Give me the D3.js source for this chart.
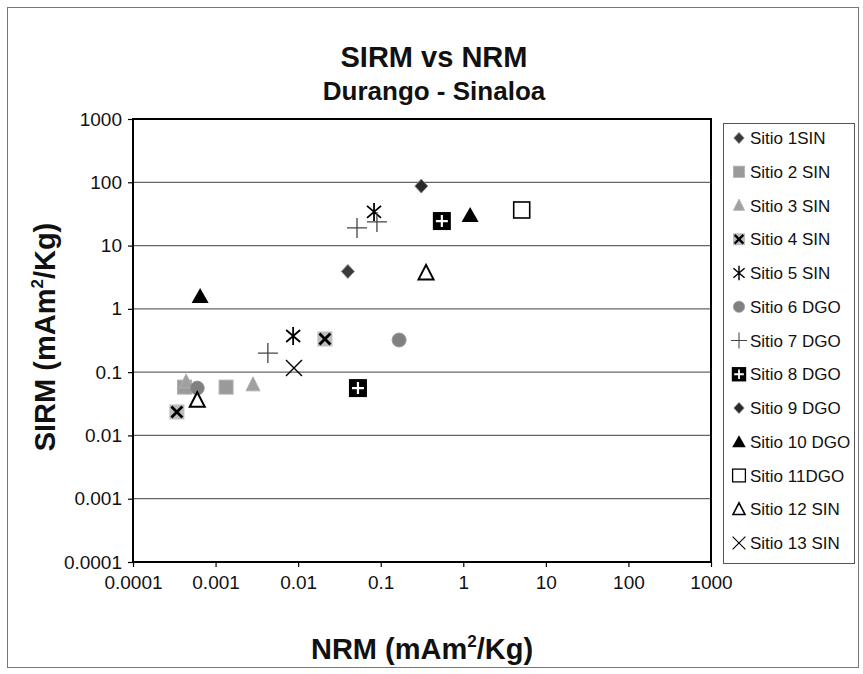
<!DOCTYPE html>
<html><head><meta charset="utf-8">
<script src="https://cdn.jsdelivr.net/npm/d3@7"></script>
<style>body{margin:0;background:#fff;}svg{display:block;font-family:Arial,"Liberation Sans",sans-serif;}</style>
</head><body>
<svg id="c" width="863" height="674"></svg>
<script>
// ---- data ----
const seriesNames = ["Sitio 1SIN","Sitio 2 SIN","Sitio 3 SIN","Sitio 4 SIN","Sitio 5 SIN","Sitio 6 DGO","Sitio 7 DGO","Sitio 8 DGO","Sitio 9 DGO","Sitio 10 DGO","Sitio 11DGO","Sitio 12 SIN","Sitio 13 SIN"];
const nrm1 = [0.04];            const sirm1 = [3.9];
const nrm2 = [0.00042, 0.00134]; const sirm2 = [0.058, 0.058];
const nrm3 = [0.00044, 0.00284]; const sirm3 = [0.07, 0.063];
const nrm4 = [0.00034, 0.0211];  const sirm4 = [0.0235, 0.334];
const nrm5 = [0.0087, 0.083];    const sirm5 = [0.372, 34];
const nrm6 = [0.0006, 0.167];    const sirm6 = [0.056, 0.322];
const nrm7 = [0.0043, 0.0516, 0.09]; const sirm7 = [0.2, 19, 23.6];
const nrm8 = [0.053, 0.55];      const sirm8 = [0.056, 24.4];
const nrm9 = [0.31];             const sirm9 = [87];
const nrm10 = [0.00065, 1.21];   const sirm10 = [1.6, 30.4];
const nrm11 = [5.1];             const sirm11 = [36.5];
const nrm12 = [0.0006, 0.354];   const sirm12 = [0.036, 3.7];
const nrm13 = [0.0089];          const sirm13 = [0.116];
const xTicks = [0.0001,0.001,0.01,0.1,1,10,100,1000];
const xTickLabels = ["0.0001","0.001","0.01","0.1","1","10","100","1000"];
const yTicks = [0.0001,0.001,0.01,0.1,1,10,100,1000];
const yTickLabels = ["0.0001","0.001","0.01","0.1","1","10","100","1000"];

const nrmAll = [nrm1,nrm2,nrm3,nrm4,nrm5,nrm6,nrm7,nrm8,nrm9,nrm10,nrm11,nrm12,nrm13];
const sirmAll = [sirm1,sirm2,sirm3,sirm4,sirm5,sirm6,sirm7,sirm8,sirm9,sirm10,sirm11,sirm12,sirm13];
const series = seriesNames.map((n,i)=>({name:n, pts: nrmAll[i].map((v,j)=>({x:v,y:sirmAll[i][j]}))}));

// ---- layout ----
const svg = d3.select("#c");
const L=133, R=711, T=119, B=562;
const x = d3.scaleLog().domain([1e-4,1e3]).range([L,R]);
const y = d3.scaleLog().domain([1e-4,1e3]).range([B,T]);

// outer border
svg.append("rect").attr("x",7.5).attr("y",7.5).attr("width",851).attr("height",660)
  .attr("fill","#fff").attr("stroke","#777").attr("stroke-width",1);

// title
svg.append("text").attr("x",434).attr("y",67).attr("text-anchor","middle")
  .attr("font-size",29).attr("font-weight","bold").attr("fill","#111").text("SIRM vs NRM");
svg.append("text").attr("x",434).attr("y",100).attr("text-anchor","middle")
  .attr("font-size",26).attr("font-weight","bold").attr("fill","#111").text("Durango - Sinaloa");

// gridlines
svg.append("g").selectAll("line").data(yTicks.slice(1,-1)).join("line")
  .attr("x1",L).attr("x2",R).attr("y1",d=>y(d)).attr("y2",d=>y(d))
  .attr("stroke","#666").attr("stroke-width",1.3);

// axes
const xa = svg.append("g").attr("transform",`translate(0,${B})`)
  .call(d3.axisBottom(x).tickValues(xTicks).tickFormat((d,i)=>xTickLabels[i]).tickSize(5).tickPadding(9));
const ya = svg.append("g").attr("transform",`translate(${L},0)`)
  .call(d3.axisLeft(y).tickValues(yTicks).tickFormat((d,i)=>yTickLabels[i]).tickSize(5).tickPadding(6));
[xa,ya].forEach(a=>{a.select(".domain").remove();
  a.selectAll("text").attr("font-size",19).attr("fill","#111").attr("font-family","Arial, 'Liberation Sans', sans-serif");
  a.selectAll("line").attr("stroke","#000").attr("stroke-width",1.2);});

// plot border
svg.append("rect").attr("x",L).attr("y",T).attr("width",R-L).attr("height",B-T)
  .attr("fill","none").attr("stroke","#000").attr("stroke-width",2);

// axis titles
const xt = svg.append("text").attr("x",422).attr("y",659).attr("text-anchor","middle")
  .attr("font-size",29).attr("font-weight","bold").attr("fill","#111");
xt.append("tspan").text("NRM (mAm");
xt.append("tspan").attr("font-size",17).attr("dy",-12).text("2");
xt.append("tspan").attr("dy",12).text("/Kg)");
const yt = svg.append("text").attr("transform","translate(55,337) rotate(-90)").attr("text-anchor","middle")
  .attr("font-size",29).attr("font-weight","bold").attr("fill","#111");
yt.append("tspan").text("SIRM (mAm");
yt.append("tspan").attr("font-size",17).attr("dy",-12).text("2");
yt.append("tspan").attr("dy",12).text("/Kg)");

// markers
function marker(g, i){
  switch(i){
    case 0: case 8:
      g.append("path").attr("d","M0,-7L6.5,0L0,7L-6.5,0Z").attr("fill", i===0?"#3a3a3a":"#2a2a2a").attr("stroke","#888").attr("stroke-width",1);
      break;
    case 1:
      g.append("rect").attr("x",-7).attr("y",-7).attr("width",14).attr("height",14).attr("fill","#9a9a9a").attr("stroke","#b0b0b0");
      break;
    case 2:
      g.append("path").attr("d","M0,-8L7,6H-7Z").attr("fill","#a0a0a0").attr("stroke","#b0b0b0");
      break;
    case 3:
      g.append("rect").attr("x",-7.5).attr("y",-7.5).attr("width",15).attr("height",15).attr("fill","#bdbdbd");
      g.append("path").attr("d","M-5.5,-5.5L5.5,5.5M-5.5,5.5L5.5,-5.5").attr("stroke","#000").attr("stroke-width",2.8);
      break;
    case 4:
      g.append("path").attr("d","M0,-9V9M-7,-6L7,6M-7,6L7,-6").attr("stroke","#000").attr("stroke-width",1.8);
      break;
    case 5:
      g.append("circle").attr("r",7).attr("fill","#808080").attr("stroke","#999");
      break;
    case 6:
      g.append("path").attr("d","M-10,0H10M0,-10V10").attr("stroke","#444").attr("stroke-width",1.3);
      break;
    case 7:
      g.append("rect").attr("x",-9).attr("y",-9).attr("width",18).attr("height",18).attr("fill","#000");
      g.append("path").attr("d","M-6,0H6M0,-6V6").attr("stroke","#fff").attr("stroke-width",2.2);
      break;
    case 9:
      g.append("path").attr("d","M0,-8L8.5,7H-8.5Z").attr("fill","#000");
      break;
    case 10:
      g.append("rect").attr("x",-8).attr("y",-8).attr("width",16).attr("height",16).attr("fill","#fff").attr("stroke","#000").attr("stroke-width",1.6);
      break;
    case 11:
      g.append("path").attr("d","M0,-8L7.5,6.5H-7.5Z").attr("fill","#fff").attr("stroke","#000").attr("stroke-width",2);
      break;
    case 12:
      g.append("path").attr("d","M-8,-8L8,8M-8,8L8,-8").attr("stroke","#000").attr("stroke-width",1.4);
      break;
  }
}
series.forEach((s,i)=>{
  svg.append("g").selectAll("g").data(s.pts).join("g")
    .attr("transform",d=>`translate(${x(d.x)},${y(d.y)})`)
    .each(function(){marker(d3.select(this), i);});
});

// legend
const lg = svg.append("g");
lg.append("rect").attr("x",723.5).attr("y",123.5).attr("width",131).attr("height",440)
  .attr("fill","#fff").attr("stroke","#555").attr("stroke-width",1);
const ly = d3.scaleLinear().domain([0,12]).range([138,543]);
series.forEach((s,i)=>{
  const g = lg.append("g").attr("transform",`translate(739,${ly(i)})`);
  const m = g.append("g").attr("transform","scale(0.8)");
  marker(m,i);
  g.append("text").attr("x",11).attr("y",6).attr("font-size",17).attr("fill","#111").text(s.name);
});
</script>
</body></html>
